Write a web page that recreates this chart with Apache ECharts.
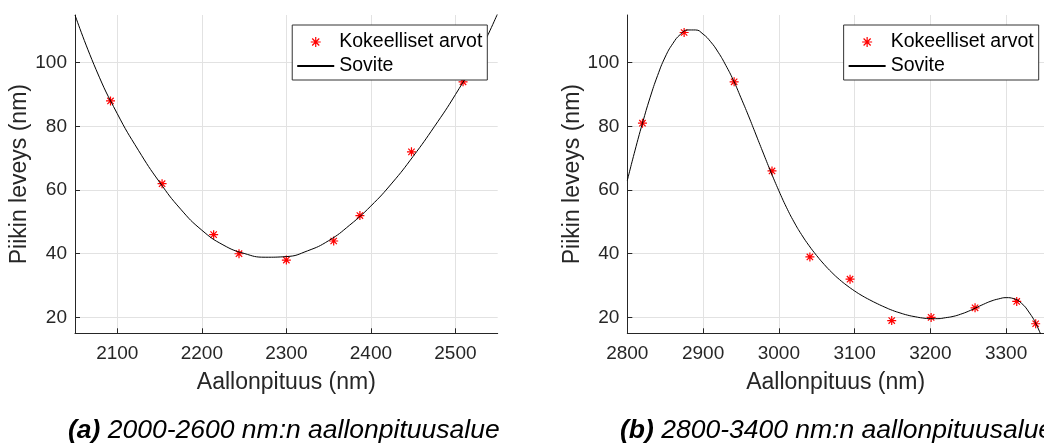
<!DOCTYPE html>
<html>
<head>
<meta charset="utf-8">
<script src="https://cdn.jsdelivr.net/npm/echarts@6/dist/echarts.min.js"></script>
<style>
html,body{margin:0;padding:0;background:#fff;}
#c{width:1044px;height:444px;}
</style>
</head>
<body>
<div id="c"></div>
<script>
// ---- data ----
const leftRange = [2050, 2550];
const rightRange = [2800, 3350];
const yRange = [15, 115];

const leftWavelengths = [2092, 2153, 2214, 2244, 2300, 2356, 2387, 2448, 2509];
const leftWidths      = [88, 62, 46, 40, 38, 44, 52, 72, 94];

const leftFitX = [2050, 2075, 2100, 2125, 2150, 2175, 2200, 2225, 2250, 2275, 2300, 2325, 2350, 2375, 2400, 2425, 2450, 2475, 2500, 2525, 2550];
const leftFitY = [115, 97.8, 84, 72.5, 62.5, 54, 47.4, 42.8, 40.1, 38.9, 39.1, 40.9, 44.1, 49, 55, 62.2, 70.6, 79.9, 90, 101.5, 115.5];

const rightWavelengths = [2820, 2875, 2941, 2991, 3041, 3094, 3149, 3201, 3259, 3314, 3339];
const rightWidths      = [81, 109.5, 94, 66, 39, 32, 19, 20, 23, 25, 18];

const rightFitX = [2800, 2810, 2820, 2830, 2840, 2850, 2860, 2870, 2880, 2890, 2900, 2910, 2920, 2930, 2940, 2950, 2960, 2970, 2980, 2990, 3000, 3010, 3020, 3030, 3040, 3050, 3060, 3070, 3080, 3090, 3100, 3110, 3120, 3130, 3140, 3150, 3160, 3170, 3180, 3190, 3200, 3210, 3220, 3230, 3240, 3250, 3260, 3270, 3280, 3290, 3300, 3310, 3320, 3330, 3340, 3350];
const rightFitY = [63, 72.3, 81, 89, 96, 101.8, 106, 108.9, 110.3, 110.3, 109, 106.6, 103.3, 99.2, 94.5, 89, 83.3, 77.3, 71.3, 65.4, 59.8, 54.6, 50, 46, 42.5, 39.4, 36.6, 34.1, 31.9, 30, 28.3, 26.8, 25.5, 24.3, 23.2, 22.2, 21.4, 20.7, 20.2, 19.8, 19.6, 19.6, 19.9, 20.3, 21, 21.9, 23, 24.1, 25.1, 25.8, 26.2, 25.9, 24.5, 21.7, 17.7, 12];

const xTitle = 'Aallonpituus (nm)';
const yTitle = 'Piikin leveys (nm)';
const pointsName = 'Kokeelliset arvot';
const fitName = 'Sovite';
const captionA = ['(a)', ' 2000-2600 nm:n aallonpituusalue'];
const captionB = ['(b)', ' 2800-3400 nm:n aallonpituusalue'];

// ---- chart ----
const FONT = "'Liberation Sans', Arial, Helvetica, sans-serif";
const AX = '#262626';
const GRID = '#e2e2e2';
const STAR = 'path://M5,0L5,10M0,5L10,5M1.46,1.46L8.54,8.54M8.54,1.46L1.46,8.54';

function zip(a, b) { return a.map((v, i) => [v, b[i]]); }
const plain = v => String(v);

function xAxis(gridIndex, range, showMin) {
  return {
    type: 'value', gridIndex, min: range[0], max: range[1],
    name: xTitle, nameLocation: 'middle', nameGap: 37.5,
    nameTextStyle: { fontSize: 23, color: AX, fontFamily: FONT },
    axisLine: { show: true, lineStyle: { color: AX, width: 1 } },
    axisTick: { show: true, inside: true, length: 5, lineStyle: { color: AX } },
    axisLabel: { color: AX, fontSize: 19, fontFamily: FONT, margin: 11, showMinLabel: showMin, showMaxLabel: false, formatter: plain },
    splitLine: { show: true, showMinLine: false, showMaxLine: false, lineStyle: { color: GRID, width: 1 } }
  };
}
function yAxis(gridIndex) {
  return {
    type: 'value', gridIndex, min: yRange[0], max: yRange[1],
    name: yTitle, nameLocation: 'middle', nameGap: 43.5,
    nameTextStyle: { fontSize: 23, color: AX, fontFamily: FONT },
    axisLine: { show: true, lineStyle: { color: AX, width: 1 } },
    axisTick: { show: true, inside: true, length: 5, lineStyle: { color: AX } },
    axisLabel: { color: AX, fontSize: 19, fontFamily: FONT, margin: 8, showMinLabel: false, showMaxLabel: false, formatter: plain },
    splitLine: { show: true, showMinLine: false, showMaxLine: false, lineStyle: { color: GRID, width: 1 } }
  };
}
function legend(right) {
  return {
    right: right, top: 25, orient: 'vertical',
    selectedMode: false,
    backgroundColor: '#fff', borderColor: '#333', borderWidth: 1,
    padding: [6, 5, 3, 4],
    itemWidth: 37, itemHeight: 10, itemGap: 2,
    textStyle: { fontSize: 19.5, color: '#000', fontFamily: FONT, lineHeight: 22 },
    data: [
      { name: pointsName, icon: STAR, itemStyle: { color: '#ff0000', borderColor: '#ff0000', borderWidth: 1.2 } },
      { name: fitName, itemStyle: { opacity: 0 } }
    ]
  };
}
function caption(parts, left) {
  return {
    left: left, top: 417, padding: 0,
    text: '{b|' + parts[0] + '}' + parts[1],
    textStyle: {
      fontSize: 26.5, fontStyle: 'italic', fontWeight: 'normal', color: '#000', fontFamily: FONT,
      rich: { b: { fontSize: 26.5, fontStyle: 'italic', fontWeight: 'bold', color: '#000', fontFamily: FONT } }
    }
  };
}
function scatter(i, x, y) {
  return {
    name: pointsName, type: 'scatter', xAxisIndex: i, yAxisIndex: i,
    symbol: STAR, symbolSize: 9,
    itemStyle: { color: '#ff0000', borderColor: '#ff0000', borderWidth: 1.2, opacity: 1 },
    data: zip(x, y), z: 2
  };
}
function fit(i, x, y) {
  return {
    name: fitName, type: 'line', xAxisIndex: i, yAxisIndex: i,
    symbol: 'none', smooth: 0.5, clip: true,
    lineStyle: { color: '#000', width: 1 },
    itemStyle: { color: '#000' },
    data: zip(x, y), z: 3
  };
}

const chart = echarts.init(document.getElementById('c'), null, { renderer: 'canvas' });
chart.setOption({
  animation: false,
  backgroundColor: '#fff',
  textStyle: { fontFamily: FONT },
  title: [caption(captionA, 68), caption(captionB, 620)],
  legend: [legend(556.7), legend(5.3)],
  grid: [
    { left: 75, top: 15, width: 422.7, height: 318.3 },
    { left: 627.3, top: 15, width: 421, height: 318.3 }
  ],
  xAxis: [xAxis(0, leftRange, false), xAxis(1, rightRange, true)],
  yAxis: [yAxis(0), yAxis(1)],
  series: [
    scatter(0, leftWavelengths, leftWidths),
    fit(0, leftFitX, leftFitY),
    scatter(1, rightWavelengths, rightWidths),
    fit(1, rightFitX, rightFitY)
  ]
});
</script>
</body>
</html>
